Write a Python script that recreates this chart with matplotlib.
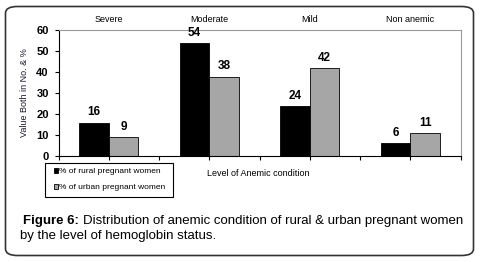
import matplotlib
matplotlib.use("Agg")
import matplotlib.pyplot as plt
import numpy as np
from matplotlib.patches import FancyBboxPatch, Patch, Rectangle

plt.rcParams['font.family'] = ['Liberation Sans', 'DejaVu Sans']

categories = ["Severe", "Moderate", "Mild", "Non anemic"]
rural = [16, 54, 24, 6]
urban = [9, 38, 42, 11]
series_names = ["% of rural pregnant women", "% of urban pregnant women"]
yticks = [0, 10, 20, 30, 40, 50, 60]

W, H = 482, 262
fig = plt.figure(figsize=(W / 100, H / 100), dpi=100)

# rounded outer frame
frame = FancyBboxPatch((5.5 / W, 6.5 / H), 468 / W, 249 / H,
                       boxstyle="round,pad=0,rounding_size=0.025",
                       transform=fig.transFigure, fill=False,
                       edgecolor="#333333", linewidth=1.2)
fig.patches.append(frame)

ax = fig.add_axes([58.5 / W, 106 / H, 402 / W, 125.5 / H])
x = np.arange(len(categories))
bw = 0.295
ax.bar(x - bw / 2, rural, bw, color="black", edgecolor="black", linewidth=0.6)
ax.bar(x + bw / 2, urban, bw, color="#a6a6a6", edgecolor="black", linewidth=0.6)

for xi, v in zip(x - bw / 2, rural):
    ax.annotate(str(v), (xi, v), xytext=(0, 3), textcoords="offset points",
                ha="center", va="bottom", fontsize=8.5, fontweight="bold")
for xi, v in zip(x + bw / 2, urban):
    ax.annotate(str(v), (xi, v), xytext=(0, 3), textcoords="offset points",
                ha="center", va="bottom", fontsize=8.5, fontweight="bold")

# category names above the plot
for xi, c in zip(x, categories):
    ax.text(xi, 1.085, c, transform=ax.get_xaxis_transform(),
            ha="center", va="center", fontsize=6.5)

ax.set_xlim(-0.5, len(categories) - 0.5)
ax.set_ylim(0, 60)
ax.set_yticks(yticks)
ax.set_yticklabels([str(t) for t in yticks], fontweight="bold", fontsize=8)
ax.set_xticks(np.arange(-0.5, len(categories), 0.5))
ax.set_xticklabels([])
ax.tick_params(axis="both", direction="out", length=3, width=0.8, color="black")
ax.tick_params(axis="y", pad=4)

for s in ["top", "right"]:
    ax.spines[s].set_color("#999999")
    ax.spines[s].set_linewidth(0.8)
for s in ["left", "bottom"]:
    ax.spines[s].set_color("black")
    ax.spines[s].set_linewidth(0.8)

fig.text(25 / W, 1 - 93 / H, "Value Both in No. & %", rotation=90,
         ha="center", va="center", fontsize=6.5, color="#1a1a2e")
fig.text(258 / W, 1 - 173 / H, "Level of Anemic condition",
         ha="center", va="center", fontsize=6.5)

# legend box drawn by hand, entries placed inside
fig.patches.append(Rectangle((44.5 / W, 1 - 196.5 / H), 128 / W, 34 / H,
                             transform=fig.transFigure, fill=False,
                             edgecolor="black", linewidth=0.8))
handles = [Patch(facecolor="black", edgecolor="black", linewidth=0.6),
           Patch(facecolor="#a6a6a6", edgecolor="black", linewidth=0.6)]
fig.legend(handles, series_names, loc="center left",
           bbox_to_anchor=(54 / W, 1 - 179.5 / H), fontsize=6,
           handlelength=0.5, handleheight=0.5, handletextpad=0.15,
           labelspacing=1.05, borderpad=0, borderaxespad=0, frameon=False)

t1 = fig.text(23 / W, 1 - 221 / H, "Figure 6:", fontsize=9.5,
              fontweight="bold", ha="left", va="center")
ax.annotate("Distribution of anemic condition of rural & urban pregnant women",
            xy=(1, 0), xycoords=t1, xytext=(3, 0), textcoords="offset points",
            ha="left", va="bottom", fontsize=9.5)
fig.text(20 / W, 1 - 236 / H, "by the level of hemoglobin status.",
         fontsize=9.5, ha="left", va="center")

fig.savefig("out.png", dpi=100)
